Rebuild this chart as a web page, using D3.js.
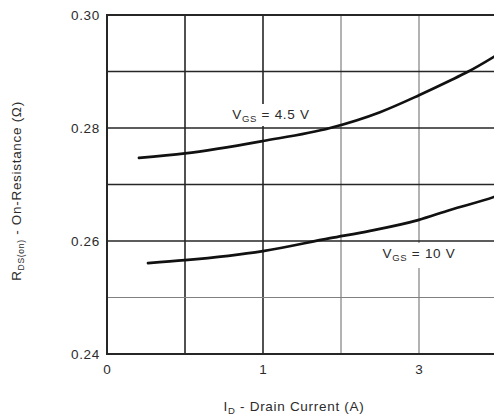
<!DOCTYPE html>
<html>
<head>
<meta charset="utf-8">
<script src="https://cdn.jsdelivr.net/npm/d3@7"></script>
<style>
  html, body { margin: 0; padding: 0; background: #fff; overflow: hidden; }
  svg { display: block; font-family: "Liberation Sans", Arial, sans-serif; }
</style>
</head>
<body>
<svg id="chart" width="494" height="419"></svg>
<script>
// Drain current axis positions (major ticks) and their printed labels
const xTickValues = [0, 1, 2];
const xTickLabels = ["0", "1", "3"];
const yTickValues = [0.24, 0.26, 0.28, 0.30];
const yTickLabels = ["0.24", "0.26", "0.28", "0.30"];

// On-resistance curves (x in axis units, y in ohms)
const curve45x = [0.205, 0.5, 1.0, 1.43, 1.75, 2.0, 2.2, 2.31, 2.48, 2.55];
const curve45y = [0.2747, 0.2755, 0.2777, 0.2800, 0.2828, 0.2858, 0.2884, 0.2899, 0.2926, 0.2938];
const curve10x = [0.263, 0.5, 1.0, 1.43, 1.686, 1.994, 2.199, 2.481, 2.55];
const curve10y = [0.2561, 0.2566, 0.2582, 0.2605, 0.2618, 0.2637, 0.2655, 0.2678, 0.2685];

const svg = d3.select("#chart");
const plotLeft = 107, plotTop = 15, plotBottom = 354;
const unit = 156; // px per major x unit

const x = d3.scaleLinear().domain([0, 2.5]).range([plotLeft, plotLeft + 2.5 * unit]);
const y = d3.scaleLinear().domain([0.24, 0.30]).range([plotBottom, plotTop]);

const textColor = "#2b2b2b";
const fontSize = 13.5;
const spacing = 0.7;

// Grid
const grid = svg.append("g");
const vGrid = [0.5, 1.0, 1.5, 2.0];
vGrid.forEach(v => {
  const light = v > 1.0;
  grid.append("line")
    .attr("x1", x(v)).attr("x2", x(v))
    .attr("y1", y(0.30)).attr("y2", y(0.24))
    .attr("stroke", light ? "#808080" : "#262626")
    .attr("stroke-width", light ? 1.2 : 1.6);
});
const hGrid = [0.25, 0.26, 0.27, 0.28, 0.29];
hGrid.forEach(v => {
  const light = v < 0.255;
  grid.append("line")
    .attr("x1", x(0)).attr("x2", x(2.5))
    .attr("y1", y(v)).attr("y2", y(v))
    .attr("stroke", light ? "#808080" : "#262626")
    .attr("stroke-width", light ? 1.2 : 1.6);
});

// Frame (left, top, bottom)
const frame = svg.append("g").attr("fill", "none").attr("stroke", "#262626").attr("stroke-width", 2);
frame.append("line").attr("x1", x(0)).attr("x2", x(0)).attr("y1", y(0.30) - 1).attr("y2", y(0.24) + 1);
frame.append("line").attr("x1", x(0)).attr("x2", x(2.5)).attr("y1", y(0.30)).attr("y2", y(0.30));
frame.append("line").attr("x1", x(0)).attr("x2", x(2.5)).attr("y1", y(0.24)).attr("y2", y(0.24));

// Curves
const line = d3.line().x(d => x(d[0])).y(d => y(d[1])).curve(d3.curveMonotoneX);
const curves = [
  d3.zip(curve45x, curve45y),
  d3.zip(curve10x, curve10y)
];
svg.append("g").selectAll("path").data(curves).join("path")
  .attr("d", line)
  .attr("fill", "none")
  .attr("stroke", "#111")
  .attr("stroke-width", 2.7)
  .attr("stroke-linecap", "round");

// Curve labels with white backing that breaks the grid line
function label(cx, baseline, value, padBottom) {
  const g = svg.append("g");
  const bg = g.append("rect").attr("fill", "#fff");
  const t = g.append("text")
    .attr("x", cx).attr("y", baseline)
    .attr("text-anchor", "middle")
    .attr("font-size", fontSize)
    .attr("letter-spacing", spacing)
    .attr("fill", textColor);
  t.append("tspan").text("V");
  t.append("tspan").attr("font-size", 9.5).attr("dy", 3).text("GS");
  t.append("tspan").attr("dy", -3).text(" = " + value);
  const b = t.node().getBBox();
  bg.attr("x", b.x - 2).attr("y", baseline - 15)
    .attr("width", b.width + 4).attr("height", 15 + padBottom);
}
label(271, 119, "4.5 V", 7);
label(419, 258, "10 V", 10);

// Y tick labels
svg.append("g").selectAll("text").data(yTickValues).join("text")
  .attr("x", 100)
  .attr("y", d => y(d))
  .attr("dy", "0.36em")
  .attr("text-anchor", "end")
  .attr("font-size", fontSize)
  .attr("letter-spacing", spacing)
  .attr("fill", textColor)
  .text((d, i) => yTickLabels[i]);

// X tick labels
svg.append("g").selectAll("text").data(xTickValues).join("text")
  .attr("x", d => x(d))
  .attr("y", 374)
  .attr("text-anchor", "middle")
  .attr("font-size", fontSize)
  .attr("fill", textColor)
  .text((d, i) => xTickLabels[i]);

// X axis title
const xt = svg.append("text")
  .attr("x", 294).attr("y", 411)
  .attr("text-anchor", "middle")
  .attr("font-size", fontSize)
  .attr("letter-spacing", spacing)
  .attr("fill", textColor);
xt.append("tspan").text("I");
xt.append("tspan").attr("font-size", 9.5).attr("dy", 3).text("D");
xt.append("tspan").attr("dy", -3).text(" - Drain Current (A)");

// Y axis title
const yt = svg.append("text")
  .attr("transform", "translate(21,191) rotate(-90)")
  .attr("text-anchor", "middle")
  .attr("font-size", fontSize)
  .attr("letter-spacing", spacing)
  .attr("fill", textColor);
yt.append("tspan").text("R");
yt.append("tspan").attr("font-size", 8.5).attr("dy", 3).text("DS(on)");
yt.append("tspan").attr("dy", -3).text(" - On-Resistance (Ω)");
</script>
</body>
</html>
